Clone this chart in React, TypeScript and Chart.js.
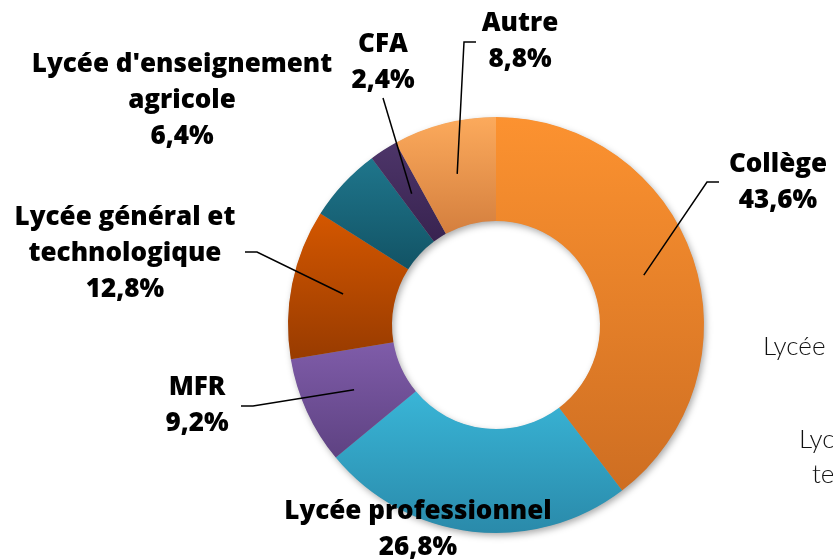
import React, { useEffect, useRef } from "react";
import { Chart, registerables } from "chart.js";

Chart.register(...registerables);

const categories = [
  "Collège",
  "Lycée professionnel",
  "MFR",
  "Lycée général et technologique",
  "Lycée d'enseignement agricole",
  "CFA",
  "Autre",
];
const values = [43.6, 26.8, 9.2, 12.8, 6.4, 2.4, 8.8];
const labelLines = [
  ["Collège"],
  ["Lycée professionnel"],
  ["MFR"],
  ["Lycée général et", "technologique"],
  ["Lycée d'enseignement", "agricole"],
  ["CFA"],
  ["Autre"],
];
const topColors = ["#FC9230", "#39B5D7", "#7F5CA9", "#D45700", "#1F768C", "#4D3569", "#FCAA5C"];
const bottomColors = ["#CE6E22", "#2A8AAA", "#5E4282", "#983B00", "#125365", "#382350", "#D47F3E"];
const legendFragments = ["Lycée", "Lycée général et", "technologique"];

// label layout: text centre x, first line centre y, optional elbow and end of the leader line
const labelLayout = [
  { cx: 778, y: 165, elbow: [707, 182], end: [719, 182] },
  { cx: 418, y: 512, elbow: null, end: null },
  { cx: 197, y: 388, elbow: [253, 406], end: [241, 406] },
  { cx: 125, y: 218, elbow: [257, 252], end: [245, 252] },
  { cx: 182, y: 65, elbow: null, end: null },
  { cx: 383, y: 45, elbow: null, end: [383, 98] },
  { cx: 520, y: 24, elbow: [464, 42], end: [476, 42] },
];
const legendLayout = [
  { x: 763, y: 347 },
  { x: 799, y: 440 },
  { x: 812, y: 475 },
];

const fmt = (v: number) => v.toFixed(1).replace(".", ",") + "%";

const decorPlugin = {
  id: "decor",
  beforeDatasetsDraw(chart: any) {
    const ctx = chart.ctx;
    const meta = chart.getDatasetMeta(0);
    const first = meta.data[0];
    if (!first) return;
    const { x, y, outerRadius, innerRadius } = first;
    ctx.save();
    ctx.shadowColor = "rgba(0,0,0,0.35)";
    ctx.shadowBlur = 7;
    ctx.shadowOffsetX = 2;
    ctx.shadowOffsetY = 3;
    ctx.beginPath();
    ctx.arc(x, y, outerRadius - 0.5, 0, Math.PI * 2);
    ctx.arc(x, y, innerRadius + 0.5, 0, Math.PI * 2, true);
    ctx.fillStyle = "#999";
    ctx.fill("evenodd");
    ctx.restore();
    meta.data.forEach((el: any, i: number) => {
      let minY = Infinity;
      let maxY = -Infinity;
      const n = 60;
      for (let k = 0; k <= n; k++) {
        const a = el.startAngle + ((el.endAngle - el.startAngle) * k) / n;
        for (const r of [el.innerRadius, el.outerRadius]) {
          const yy = el.y + r * Math.sin(a);
          if (yy < minY) minY = yy;
          if (yy > maxY) maxY = yy;
        }
      }
      const g = ctx.createLinearGradient(0, minY, 0, maxY);
      g.addColorStop(0, topColors[i]);
      g.addColorStop(1, bottomColors[i]);
      el.options.backgroundColor = g;
    });
  },
  afterDatasetsDraw(chart: any) {
    const ctx = chart.ctx;
    const meta = chart.getDatasetMeta(0);
    ctx.save();
    ctx.strokeStyle = "#000";
    ctx.lineWidth = 1.5;
    meta.data.forEach((el: any, i: number) => {
      const L = labelLayout[i];
      if (!L.end) return;
      const p = el.tooltipPosition();
      ctx.beginPath();
      ctx.moveTo(p.x, p.y);
      if (L.elbow) ctx.lineTo(L.elbow[0], L.elbow[1]);
      ctx.lineTo(L.end[0], L.end[1]);
      ctx.stroke();
    });
    ctx.fillStyle = "#000";
    ctx.textAlign = "center";
    ctx.textBaseline = "middle";
    ctx.font = "800 26px 'Open Sans'";
    values.forEach((v, i) => {
      const L = labelLayout[i];
      const lines = [...labelLines[i], fmt(v)];
      lines.forEach((t, k) => ctx.fillText(t, L.cx, L.y + k * 36));
    });
    ctx.textAlign = "left";
    ctx.font = "300 26px Lato";
    ctx.fillStyle = "#111";
    legendFragments.forEach((t, k) => ctx.fillText(t, legendLayout[k].x, legendLayout[k].y));
    ctx.restore();
  },
};

export default function App() {
  const ref = useRef<HTMLCanvasElement>(null);
  useEffect(() => {
    if (!ref.current) return;
    const chart = new Chart(ref.current, {
      type: "doughnut",
      data: {
        labels: categories,
        datasets: [
          {
            data: values,
            backgroundColor: (c: any) => topColors[c.dataIndex],
            borderWidth: 0,
          },
        ],
      },
      options: {
        responsive: false,
        maintainAspectRatio: false,
        animation: false,
        devicePixelRatio: 1,
        cutout: "50%",
        layout: { padding: { left: 288, right: 129, top: 117, bottom: 27 } },
        plugins: {
          legend: { display: false },
          tooltip: { enabled: false },
        },
      },
      plugins: [decorPlugin],
    });
    return () => chart.destroy();
  }, []);
  return (
    <div style={{ position: "absolute", left: 0, top: 0, width: 833, height: 560, background: "#fff" }}>
      <canvas ref={ref} width={833} height={560} style={{ display: "block" }} />
    </div>
  );
}
